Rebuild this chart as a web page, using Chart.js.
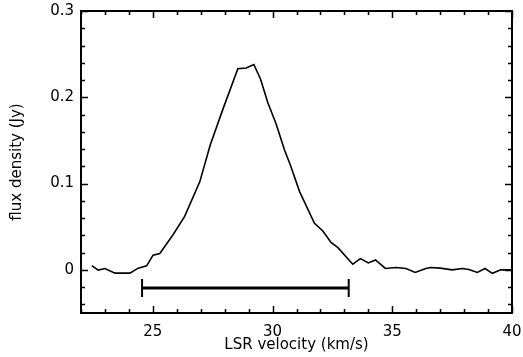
<!DOCTYPE html>
<html>
<head>
<meta charset="utf-8">
<script src="https://cdn.jsdelivr.net/npm/chart.js@4"></script>
<style>
  html, body { margin: 0; padding: 0; background: #fff; }
  #wrap { width: 523px; height: 357px; }
</style>
</head>
<body>
<div id="wrap"><canvas id="c" width="523" height="357"></canvas></div>
<script>
// ---- data ----
const velocity = [22.45, 22.72, 23.0, 23.42, 24.04, 24.39, 24.74, 25.01, 25.29, 25.55, 25.85, 26.33, 26.96, 27.4, 27.95, 28.55, 28.9, 29.22, 29.5, 29.8, 30.15, 30.5, 30.75, 31.125, 31.75, 32.1, 32.45, 32.72, 33.35, 33.67, 34.0, 34.3, 34.71, 35.15, 35.57, 35.96, 36.4, 36.6, 37.0, 37.5, 37.93, 38.2, 38.55, 38.875, 39.18, 39.53, 40.0];
const flux = [0.005, -0.0003, 0.0015, -0.0038, -0.0038, 0.002, 0.0046, 0.017, 0.019, 0.029, 0.041, 0.062, 0.102, 0.145, 0.188, 0.233, 0.234, 0.238, 0.221, 0.194, 0.169, 0.139, 0.121, 0.091, 0.054, 0.045, 0.0315, 0.026, 0.0066, 0.013, 0.008, 0.0115, 0.0016, 0.0027, 0.0016, -0.003, 0.0016, 0.0027, 0.002, 0.0, 0.0016, 0.0005, -0.003, 0.0016, -0.004, 0.0, 0.0];
const barRange = [24.55, 33.18];
const barLevel = -0.021;
const xTickValues = [25, 30, 35, 40];
const xTickLabels = ['25', '30', '35', '40'];
const yTickValues = [0, 0.1, 0.2, 0.3];
const yTickLabels = ['0', '0.1', '0.2', '0.3'];
const xMinorStep = 1;
const yMinorStep = 0.02;
const xRange = [22, 40];
const yRange = [-0.05, 0.3];

const spectrum = velocity.map((v, i) => ({ x: v, y: flux[i] }));
const bar = barRange.map(v => ({ x: v, y: barLevel }));

const FONT = { family: 'DejaVu Sans', size: 15 };

const framePlugin = {
  id: 'frame',
  afterDraw(chart) {
    const { ctx, chartArea: a, scales: { x, y } } = chart;
    ctx.save();
    ctx.strokeStyle = '#000';
    ctx.lineWidth = 2;
    ctx.strokeRect(a.left, a.top, a.right - a.left, a.bottom - a.top);
    ctx.lineWidth = 1.5;
    ctx.beginPath();
    const eps = 1e-9;
    for (let v = Math.ceil(x.min); v <= x.max + eps; v += xMinorStep) {
      const major = xTickValues.some(t => Math.abs(t - v) < 1e-6);
      const len = major ? 7 : 4;
      const px = Math.round(x.getPixelForValue(v)) + 0.5;
      ctx.moveTo(px, a.bottom); ctx.lineTo(px, a.bottom - len);
      ctx.moveTo(px, a.top); ctx.lineTo(px, a.top + len);
    }
    const n = Math.round((y.max - y.min) / yMinorStep);
    for (let k = 0; k <= n; k++) {
      const v = Math.round((y.min + 0.01) / yMinorStep) * yMinorStep + k * yMinorStep;
      if (v < y.min - eps || v > y.max + eps) continue;
      const major = yTickValues.some(t => Math.abs(t - v) < 1e-6);
      const len = major ? 7 : 4;
      const py = Math.round(y.getPixelForValue(v)) + 0.5;
      ctx.moveTo(a.left, py); ctx.lineTo(a.left + len, py);
      ctx.moveTo(a.right, py); ctx.lineTo(a.right - len, py);
    }
    ctx.stroke();
    ctx.restore();
  }
};

function zeroPad(s) { s.paddingLeft = 0; s.paddingRight = 0; s.paddingTop = 0; s.paddingBottom = 0; }

new Chart(document.getElementById('c'), {
  type: 'scatter',
  data: {
    datasets: [
      {
        data: spectrum,
        showLine: true,
        borderColor: '#000',
        borderWidth: 1.6,
        pointRadius: 0,
        tension: 0,
        fill: false
      },
      {
        data: bar,
        showLine: true,
        borderColor: '#000',
        borderWidth: 3,
        pointStyle: 'line',
        pointRotation: 90,
        pointRadius: 9,
        pointBorderWidth: 2,
        pointBorderColor: '#000',
        pointBackgroundColor: '#000'
      }
    ]
  },
  options: {
    responsive: false,
    animation: false,
    events: [],
    layout: { padding: { top: 10, right: 11, left: 0, bottom: 0 } },
    plugins: { legend: { display: false }, tooltip: { enabled: false } },
    scales: {
      x: {
        type: 'linear',
        min: xRange[0], max: xRange[1],
        grid: { display: false, drawTicks: false },
        border: { display: false },
        afterBuildTicks: s => { s.ticks = xTickValues.map(v => ({ value: v })); },
        afterFit: s => { s.height = 44; zeroPad(s); },
        ticks: {
          color: '#000', font: FONT, padding: 10, maxRotation: 0,
          callback: (v) => xTickLabels[xTickValues.indexOf(v)]
        },
        title: {
          display: true, text: 'LSR velocity (km/s)', color: '#000', font: FONT,
          padding: { top: 0, bottom: 3 }
        }
      },
      y: {
        type: 'linear',
        min: yRange[0], max: yRange[1],
        grid: { display: false, drawTicks: false },
        border: { display: false },
        afterBuildTicks: s => { s.ticks = yTickValues.map(v => ({ value: v })); },
        afterFit: s => { s.width = 81; zeroPad(s); },
        ticks: {
          color: '#000', font: FONT, padding: 7,
          callback: (v) => yTickLabels[yTickValues.indexOf(v)]
        },
        title: {
          display: true, text: 'flux density (Jy)', color: '#000', font: FONT,
          padding: { top: 8, bottom: 0 }
        }
      }
    }
  },
  plugins: [framePlugin]
});
</script>
</body>
</html>
